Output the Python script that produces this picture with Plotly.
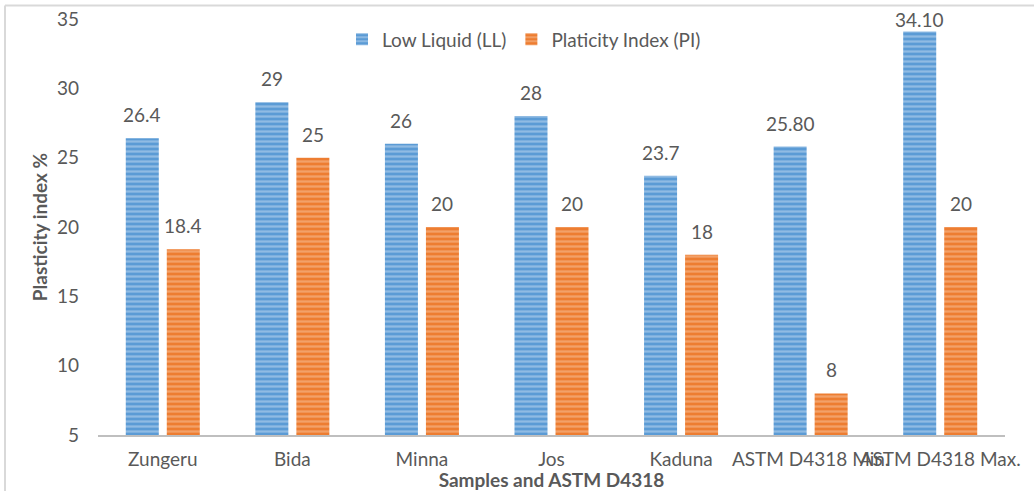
import plotly.graph_objects as go

categories = ["Zungeru", "Bida", "Minna", "Jos", "Kaduna", "ASTM D4318 Min.", "ASTM D4318 Max."]
ll_values = [26.4, 29, 26, 28, 23.7, 25.80, 34.10]
ll_labels = ["26.4", "29", "26", "28", "23.7", "25.80", "34.10"]
pi_values = [18.4, 25, 20, 20, 18, 8, 20]
pi_labels = ["18.4", "25", "20", "20", "18", "8", "20"]
y_ticks = [5, 10, 15, 20, 25, 30, 35]

W, H = 1034, 491
L, R, T, B = 98, 29, 18.6, 56
pw, ph = W - L - R, H - T - B

FONT = "Lato, 'Open Sans', sans-serif"
GRAY = "#595959"
Y_MAX = 35

fig = go.Figure()
fig.add_trace(go.Bar(
    x=categories, y=ll_values, base=0, name="Low Liquid (LL)",
    marker=dict(color="#5B9BD5",
                pattern=dict(shape="-", bgcolor="#5B9BD5", fgcolor="#C5DCF2", size=5, solidity=0.45),
                line=dict(width=0)),
))
fig.add_trace(go.Bar(
    x=categories, y=pi_values, base=0, name="Platicity Index (PI)",
    marker=dict(color="#ED7D31",
                pattern=dict(shape="-", bgcolor="#ED7D31", fgcolor="#F8C6A2", size=5, solidity=0.45),
                line=dict(width=0)),
))

# data labels above each bar (pushed down near the top edge, as in the original)
cat_w = pw / len(categories)
offset = cat_w * (1 - 0.367) / 4
for vals, labs, sign in ((ll_values, ll_labels, -1), (pi_values, pi_labels, 1)):
    for c, v, t in zip(categories, vals, labs):
        ys = 10 if v < Y_MAX - 2 else -2
        fig.add_annotation(x=c, y=v, text=t, showarrow=False, xanchor="center", yanchor="bottom",
                           xshift=sign * offset, yshift=ys,
                           font=dict(size=19, color=GRAY, family=FONT))

def px(x):
    return (x - L) / pw

def py(y):
    return (H - B - y) / ph

fig.update_layout(
    width=W, height=H,
    margin=dict(l=L, r=R, t=T, b=B, autoexpand=False),
    paper_bgcolor="white", plot_bgcolor="white",
    font=dict(family=FONT, color=GRAY, size=19),
    barmode="group", bargap=0.367, bargroupgap=0.195,
    legend=dict(orientation="h", x=px(524), xanchor="center", y=py(39), yanchor="middle",
                font=dict(size=19, color=GRAY), bgcolor="rgba(0,0,0,0)",
                itemwidth=30),
    xaxis=dict(showline=True, linecolor="#BFBFBF", linewidth=2, tickangle=0,
               tickfont=dict(size=19, color=GRAY), ticks="", ticklabelstandoff=6,
               title=dict(text="<b>Samples and ASTM D4318</b>", font=dict(size=19, color=GRAY), standoff=0)),
    yaxis=dict(range=[5, Y_MAX], tickvals=y_ticks, showgrid=False, zeroline=False, showline=False,
               tickfont=dict(size=19, color=GRAY), ticklabelstandoff=18,
               title=dict(text="<b>Plasticity index %</b>", font=dict(size=19, color=GRAY), standoff=4)),
    showlegend=True,
    shapes=[
        dict(type="line", xref="paper", yref="paper", x0=px(5), x1=px(1040), y0=py(5), y1=py(5),
             line=dict(color="#D9D9D9", width=2)),
        dict(type="line", xref="paper", yref="paper", x0=px(5), x1=px(5), y0=py(5), y1=py(500),
             line=dict(color="#D9D9D9", width=2)),
    ],
)

fig.write_html("out.html", config={"displayModeBar": False},
               post_script="document.body.style.margin='0';")
